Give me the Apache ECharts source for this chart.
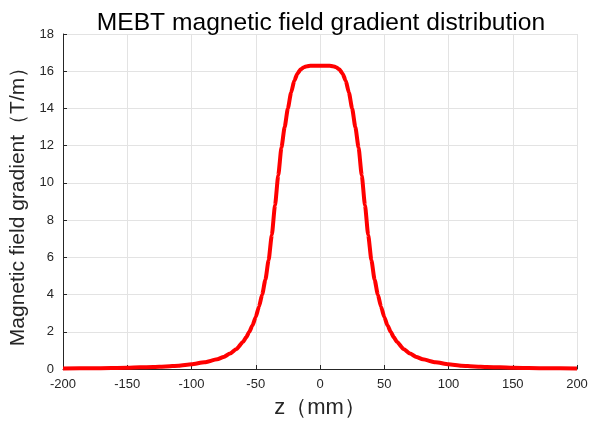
<!DOCTYPE html>
<html>
<head>
<meta charset="utf-8">
<script src="https://cdn.jsdelivr.net/npm/echarts@6/dist/echarts.min.js"></script>
<style>
  html, body { margin: 0; padding: 0; background: #fff; }
  #chart { width: 590px; height: 421px; }
</style>
</head>
<body>
<div id="chart"></div>
<script>
// Axial position along the quadrupole (mm)
const zPositions = [
  -200, -175, -150, -140, -130, -120, -110, -100, -90, -80, -75, -70, -65, -60,
  -57.5, -55, -52.5, -50, -47.5, -45, -42.5, -40, -37.5, -35, -32.5, -30, -27.5, -25,
  -22.5, -20, -17.5, -15, -12.5, -10, -7.5, -5, -2.5, 0, 2.5, 5, 7.5, 10, 12.5, 15,
  17.5, 20, 22.5, 25, 27.5, 30, 32.5, 35, 37.5, 40, 42.5, 45, 47.5, 50, 52.5, 55, 57.5,
  60, 65, 70, 75, 80, 90, 100, 110, 120, 130, 140, 150, 175, 200
];
// Field gradient at each position (T/m)
const gradient = [
  0.03, 0.04, 0.07, 0.09, 0.11, 0.14, 0.18, 0.25, 0.36, 0.52, 0.65, 0.83, 1.08, 1.45,
  1.70, 2.00, 2.35, 2.80, 3.35, 4.00, 4.80, 5.85, 7.20, 8.80, 10.40, 11.90, 13.00, 14.00,
  14.85, 15.50, 15.88, 16.10, 16.22, 16.27, 16.29, 16.30, 16.30, 16.30, 16.30, 16.30, 16.29, 16.27, 16.22, 16.10,
  15.88, 15.50, 14.85, 14.00, 13.00, 11.90, 10.40, 8.80, 7.20, 5.85, 4.80, 4.00, 3.35, 2.80, 2.35, 2.00, 1.70,
  1.45, 1.08, 0.83, 0.65, 0.52, 0.36, 0.25, 0.18, 0.14, 0.11, 0.09, 0.07, 0.04, 0.03
];

const titleText = 'MEBT magnetic field gradient distribution';
const xName = 'z（mm）';
const yName = 'Magnetic field gradient（T/m）';

const points = zPositions.map((z, i) => [z, gradient[i]]);

const chart = echarts.init(document.getElementById('chart'), null, { renderer: 'canvas' });
const font = 'Liberation Sans, Arial, sans-serif';
const axisColor = '#262626';

chart.setOption({
  animation: false,
  backgroundColor: '#ffffff',
  title: {
    text: titleText,
    left: 316, textAlign: 'center', top: 6,
    textStyle: { fontFamily: font, fontSize: 24.6, fontWeight: 'normal', color: '#000' }
  },
  grid: { left: 63, right: 13, top: 34, bottom: 52, containLabel: false, outerBoundsMode: 'none' },
  xAxis: {
    type: 'value', min: -200, max: 200, interval: 50,
    name: xName, nameLocation: 'middle', nameGap: 28,
    nameTextStyle: { fontFamily: font, fontSize: 22, color: axisColor },
    axisLine: { show: true, onZero: false, lineStyle: { color: axisColor, width: 1 } },
    axisTick: { show: true, inside: true, length: 4, lineStyle: { color: axisColor } },
    axisLabel: { fontFamily: font, fontSize: 13, color: axisColor, margin: 9 },
    splitLine: { show: true, lineStyle: { color: '#e3e3e3', width: 1 } }
  },
  yAxis: {
    type: 'value', min: 0, max: 18, interval: 2,
    name: yName, nameLocation: 'middle', nameGap: 31,
    nameTextStyle: { fontFamily: font, fontSize: 21, color: axisColor },
    axisLine: { show: true, onZero: false, lineStyle: { color: axisColor, width: 1 } },
    axisTick: { show: true, inside: true, length: 4, lineStyle: { color: axisColor } },
    axisLabel: { fontFamily: font, fontSize: 13, color: axisColor, margin: 9 },
    splitLine: { show: true, lineStyle: { color: '#e3e3e3', width: 1 } }
  },
  series: [{
    type: 'line',
    data: points,
    smooth: 0.2,
    smoothMonotone: 'x',
    showSymbol: false,
    lineStyle: { color: '#ff0000', width: 4 },
    z: 3
  }]
});
</script>
</body>
</html>
